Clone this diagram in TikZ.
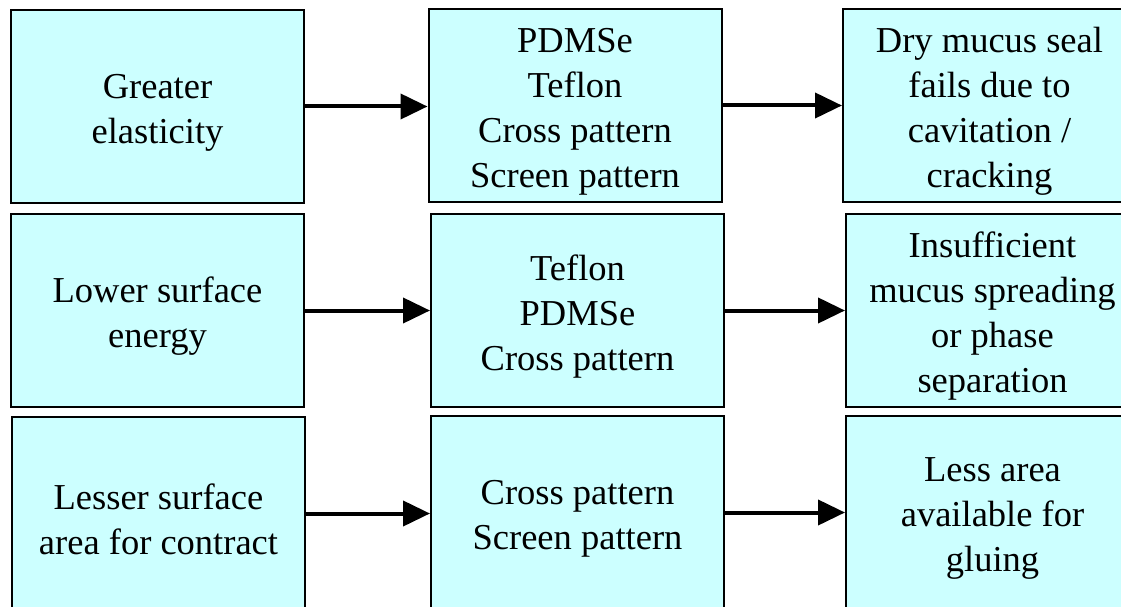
\documentclass[tikz,border=0pt]{standalone}
\usepackage{fontspec}
\setmainfont{Liberation Serif}
\usetikzlibrary{arrows.meta}
\definecolor{boxcyan}{HTML}{CCFFFF}
\tikzset{
  box/.style={draw=black, line width=2pt, fill=boxcyan, rectangle,
    minimum width=293pt, minimum height=193pt, inner sep=0pt},
  txt/.style={inner sep=0pt, align=center, yshift=-6pt,
    font=\fontsize{36.5}{45}\selectfont},
  arr/.style={line width=4pt, -{Triangle[length=27pt,width=25pt]}}
}
\begin{document}
\begin{tikzpicture}[x=1pt,y=-1pt]
\useasboundingbox (0,0) rectangle (1121,607);
\clip (0,0) rectangle (1121,607);
\fill[white] (0,0) rectangle (1121,607);
\node[box] (a1) at (157.5,106.5) {};
\node[box] (b1) at (575,105.5) {};
\node[box] (c1) at (989.5,105.5) {};
\node[box] (a2) at (157.5,310.5) {};
\node[box] (b2) at (577.5,310.5) {};
\node[box] (c2) at (992.5,310.5) {};
\node[box] (a3) at (158.5,513.5) {};
\node[box] (b3) at (577.5,512.5) {};
\node[box] (c3) at (992.5,512.5) {};
\node[txt] (a1t) at (a1.center) {Greater\\elasticity};
\node[txt] (b1t) at (b1.center) {PDMSe\\Teflon\\Cross pattern\\Screen pattern};
\node[txt] (c1t) at (c1.center) {Dry mucus seal\\fails due to\\cavitation /\\cracking};
\node[txt] (a2t) at (a2.center) {Lower surface\\energy};
\node[txt] (b2t) at (b2.center) {Teflon\\PDMSe\\Cross pattern};
\node[txt] (c2t) at (c2.center) {Insufficient\\mucus spreading\\or phase\\separation};
\node[txt] (a3t) at (a3.center) {Lesser surface\\area for contract};
\node[txt] (b3t) at (b3.center) {Cross pattern\\Screen pattern};
\node[txt] (c3t) at (c3.center) {Less area\\available for\\gluing};
\draw[arr] (a1.east) -- (a1.east -| b1.west);
\draw[arr] (b1.east) -- (b1.east -| c1.west);
\draw[arr] (a2.east) -- (a2.east -| b2.west);
\draw[arr] (b2.east) -- (b2.east -| c2.west);
\draw[arr] (a3.east) -- (a3.east -| b3.west);
\draw[arr] (b3.east) -- (b3.east -| c3.west);
\end{tikzpicture}
\end{document}
